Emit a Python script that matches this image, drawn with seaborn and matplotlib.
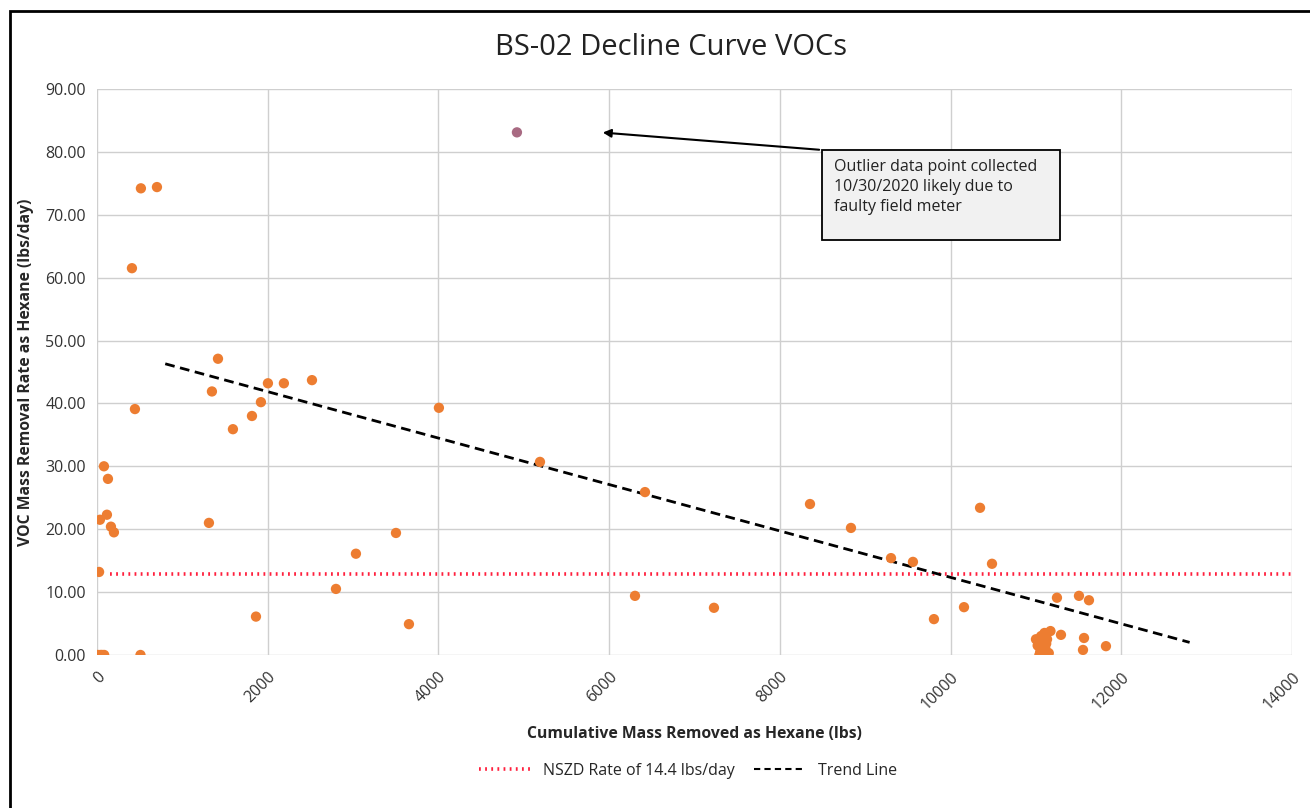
import numpy as np
import pandas as pd
import seaborn as sns
import matplotlib.pyplot as plt
from matplotlib.patches import Rectangle
from matplotlib.lines import Line2D

# Cumulative mass removed (lbs) vs VOC removal rate (lbs/day)
cum_mass = [10, 40, 60, 85, 510, 25, 35, 117, 164, 199, 82, 129, 445,
            410, 515, 703, 1312, 1347, 1418, 1593, 1816, 1863, 1921, 2003,
            2190, 2519, 2800, 3034, 3503, 3655, 4006, 5190, 6303, 6420, 7228,
            8353, 8833, 9302, 9559, 9805, 10157, 10345, 10485,
            11000, 11020, 11050, 11060, 11080, 11100, 11110, 11130, 11150,
            11170, 11040, 11120, 11246, 11504, 11621, 11293, 11563, 11551,
            11820]
voc_rate = [0.0, 0.0, 0.0, 0.0, 0.0, 13.2, 21.5, 22.3, 20.4, 19.5, 30.0,
            28.0, 39.1, 61.5, 74.2, 74.4, 21.0, 41.9, 47.1, 35.9, 38.0, 6.1,
            40.2, 43.2, 43.2, 43.7, 10.5, 16.1, 19.4, 4.9, 39.3, 30.7, 9.4,
            25.9, 7.5, 24.0, 20.2, 15.4, 14.8, 5.7, 7.6, 23.4, 14.5,
            2.5, 1.5, 0.5, 3.0, 2.0, 3.5, 1.0, 2.5, 0.3, 3.8, 0.0, 1.8, 9.1,
            9.4, 8.7, 3.2, 2.7, 0.8, 1.4]

# outlier collected 10/30/2020
outlier_mass = [4920]
outlier_rate = [83.1]

# trend line and NSZD rate line end points
trend_x = [800, 12800]
trend_y = [46.3, 2.0]
nszd_x = [150, 14000]
nszd_y = [12.9, 12.9]

x_ticks = [0, 2000, 4000, 6000, 8000, 10000, 12000, 14000]
y_ticks = [0, 10, 20, 30, 40, 50, 60, 70, 80, 90]

df = pd.DataFrame({'mass': cum_mass, 'rate': voc_rate})

sns.set_style('white')
plt.rcParams['font.family'] = ['Open Sans', 'DejaVu Sans']

fig = plt.figure(figsize=(13.1, 8.08), dpi=100)
ax = fig.add_axes([0.074, 0.1894, 0.9123, 0.7005])

sns.scatterplot(data=df, x='mass', y='rate', ax=ax, color='#ed7d31',
                s=55, edgecolor='none', zorder=4)
sns.scatterplot(x=outlier_mass, y=outlier_rate, ax=ax, color='#a86a82',
                s=55, edgecolor='none', zorder=4)
sns.lineplot(x=nszd_x, y=nszd_y, ax=ax, color='#ff1f3d', lw=2.6,
             linestyle=(0, (0.5, 1.2)), estimator=None, zorder=3)
sns.lineplot(x=trend_x, y=trend_y, ax=ax, color='black', lw=2.0,
             linestyle=(0, (3.5, 2)), estimator=None, zorder=3)

ax.set_xlim(0, 14000)
ax.set_ylim(0, 90)
ax.set_xticks(x_ticks)
ax.set_yticks(y_ticks)
ax.set_xticklabels([str(t) for t in x_ticks], rotation=45, ha='right',
                   va='top', rotation_mode='anchor', fontsize=11.5,
                   color='#333333')
ax.set_yticklabels(['%.2f' % t for t in y_ticks], fontsize=11.5,
                   color='#333333')
ax.tick_params(axis='both', length=0, pad=8)
ax.tick_params(axis='x', pad=10)
ax.grid(True, color='#cfcfcf', lw=1.0)
for sp in ax.spines.values():
    sp.set_visible(False)

ax.set_xlabel('Cumulative Mass Removed as Hexane (lbs)', fontsize=11.3,
              fontweight='bold', labelpad=10)
ax.set_ylabel('VOC Mass Removal Rate as Hexane (lbs/day)', fontsize=11.3,
              fontweight='bold', labelpad=8)
fig.text(0.512, 0.941, 'BS-02 Decline Curve VOCs', ha='center', va='center',
         fontsize=21, color='#222222')

# annotation for the outlier
box = Rectangle((8493, 66.0), 2790, 14.3, facecolor='#f1f1f1',
                edgecolor='black', lw=1.3, zorder=5)
ax.add_patch(box)
ax.text(8640, 78.8, 'Outlier data point collected\n10/30/2020 likely due to\nfaulty field meter',
        fontsize=11.5, va='top', ha='left', linespacing=1.3, zorder=6,
        color='#222222')
ax.annotate('', xy=(5893, 83.1), xytext=(8493, 80.3),
            arrowprops=dict(arrowstyle='-|>', color='black', lw=1.5,
                            mutation_scale=12), zorder=6)

handles = [Line2D([], [], color='#ff1f3d', lw=2.6, linestyle=(0, (0.5, 1.2))),
           Line2D([], [], color='black', lw=1.5, linestyle=(0, (3, 2)))]
fig.legend(handles, ['NSZD Rate of 14.4 lbs/day', 'Trend Line'],
           loc='center', bbox_to_anchor=(0.525, 0.046), ncol=2, frameon=False,
           fontsize=11.5, handlelength=3.2, columnspacing=1.2)

# outer chart frame
fig.patches.append(Rectangle((10 / 1310, -0.05), 1.1, 797 / 808 + 0.05,
                             transform=fig.transFigure, fill=False,
                             edgecolor='black', lw=2.0))

fig.savefig('out.png', dpi=100)
